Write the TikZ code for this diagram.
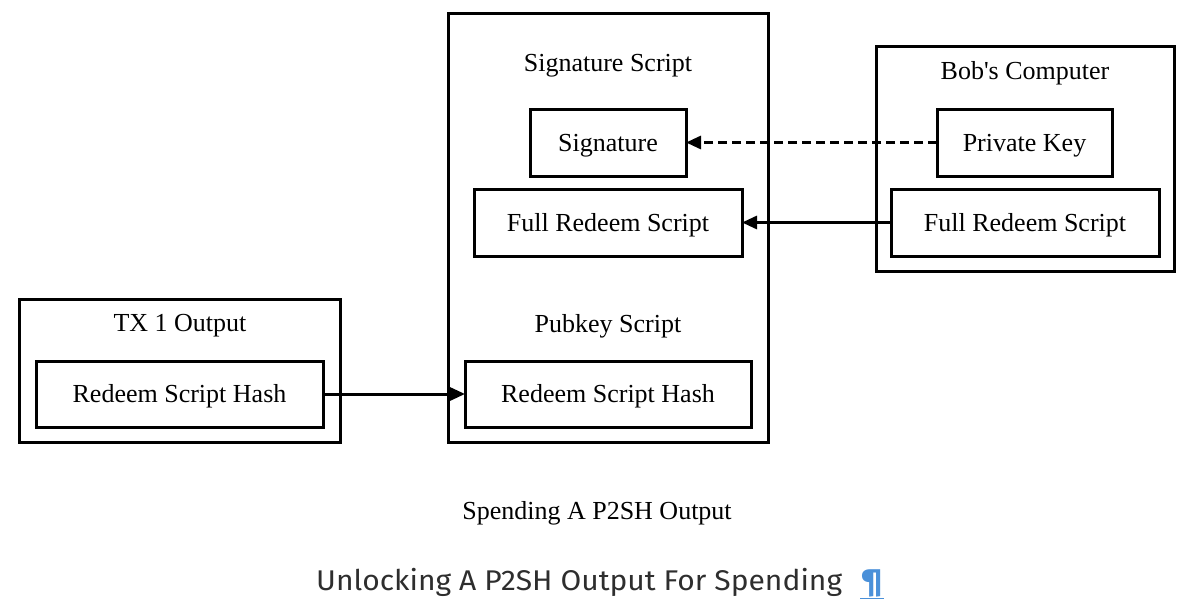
\documentclass[tikz,border=0pt]{standalone}
\usepackage{fontspec}
\setmainfont{Liberation Serif}
\newfontfamily\headfont{Fira Sans}
\usetikzlibrary{arrows.meta}
\definecolor{headgray}{HTML}{2E2E2E}
\definecolor{linkblue}{HTML}{4A90D9}
\begin{document}
\begin{tikzpicture}[x=1pt,y=-1pt,
  box/.style={draw=black,line width=3pt,inner sep=0pt,outer sep=0pt},
  lbl/.style={font=\fontsize{26}{30}\selectfont,inner sep=0pt},
  conn/.style={line width=3pt,-{Triangle[length=15pt,width=13pt]}}]
\useasboundingbox (0,0) rectangle (1190,610);
% outer clusters
\node[box,minimum width=320pt,minimum height=428pt] (mid) at (608,228) {};
\node[box,minimum width=298pt,minimum height=224pt] (bob) at (1025,159) {};
\node[box,minimum width=321pt,minimum height=143pt] (tx) at (179.5,370.5) {};
% cluster labels
\node[lbl,anchor=base] (sigscript) at (608,71.5) {Signature Script};
\node[lbl,anchor=base] (bobl) at (1025,79.5) {Bob\textquotesingle s Computer};
\node[lbl,anchor=base] (txl) at (180,331.5) {TX 1 Output};
\node[lbl,anchor=base] (pkl) at (608,332.5) {Pubkey Script};
% inner nodes
\node[box,minimum width=156pt,minimum height=67pt] (sig) at (608,142.5) {};
\node[box,minimum width=268pt,minimum height=67pt] (frs) at (608,222.5) {};
\node[box,minimum width=175pt,minimum height=67pt] (pk) at (1024.5,142.5) {};
\node[box,minimum width=268pt,minimum height=67pt] (frsb) at (1025,222.5) {};
\node[box,minimum width=286pt,minimum height=66pt] (rsh) at (608,394) {};
\node[box,minimum width=287pt,minimum height=66pt] (rsht) at (179.5,394) {};
\node[lbl,anchor=base] (sigt) at (608,151) {Signature};
\node[lbl,anchor=base] (frst) at (608,231) {Full Redeem Script};
\node[lbl,anchor=base] (pkt) at (1024.5,151) {Private Key};
\node[lbl,anchor=base] (frsbt) at (1025,231) {Full Redeem Script};
\node[lbl,anchor=base] (rsht1) at (608,402.5) {Redeem Script Hash};
\node[lbl,anchor=base] (rsht2) at (179.5,402.5) {Redeem Script Hash};
% connectors
\draw[conn,dashed,dash pattern=on 9pt off 5pt] (pk.west) -- (sig.east);
\draw[conn] (frsb.west) -- (frs.east);
\draw[conn] (rsht.east) -- (rsh.west);
% caption
\node[lbl,anchor=base] (cap) at (597,519) {Spending A P2SH Output};
\node[font=\headfont\fontsize{28.5}{33}\selectfont,text=headgray,inner sep=0pt,anchor=base west] (head) at (316,590) {\scalebox{1.053}[1]{Unlocking A P2SH Output For Spending}};
\node[font=\headfont\bfseries\fontsize{30}{34}\selectfont,text=linkblue,inner sep=0pt,anchor=base west] (pil) at (860,590) {\underline{¶}};
\end{tikzpicture}
\end{document}
